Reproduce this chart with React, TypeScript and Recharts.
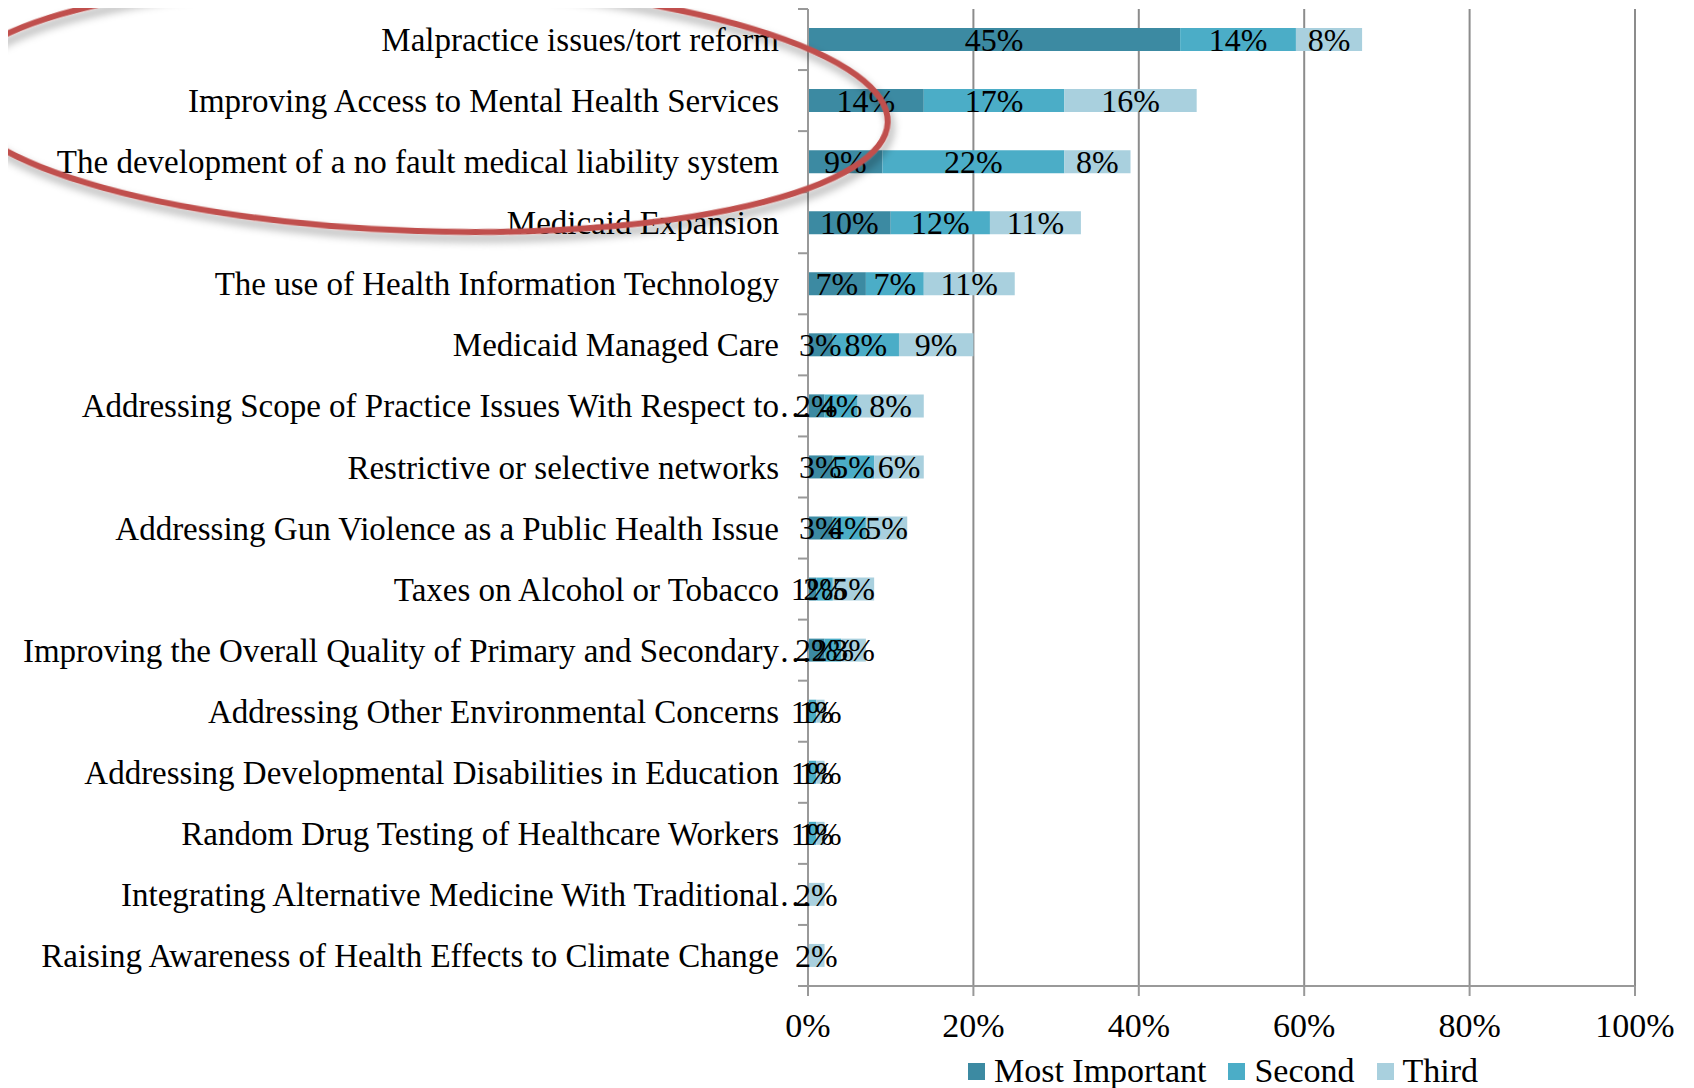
import React from 'react';
import {
  BarChart,
  Bar,
  XAxis,
  YAxis,
  CartesianGrid,
  Legend,
  LabelList,
} from 'recharts';

const issues = [
  'Malpractice issues/tort reform',
  'Improving Access to Mental Health Services',
  'The development of a no fault medical liability system',
  'Medicaid Expansion',
  'The use of Health Information Technology',
  'Medicaid Managed Care',
  'Addressing Scope of Practice Issues With Respect to…',
  'Restrictive or selective networks',
  'Addressing Gun Violence as a Public Health Issue',
  'Taxes on Alcohol or Tobacco',
  'Improving the Overall Quality of Primary and Secondary…',
  'Addressing Other Environmental Concerns',
  'Addressing Developmental Disabilities in Education',
  'Random Drug Testing of Healthcare Workers',
  'Integrating Alternative Medicine With Traditional…',
  'Raising Awareness of Health Effects to Climate Change',
];

const mostImportant = [45, 14, 9, 10, 7, 3, 2, 3, 3, 1, 2, 0, 0, 0, 0, 0];
const second = [14, 17, 22, 12, 7, 8, 4, 5, 4, 2, 2, 1, 1, 1, 0, 0];
const third = [8, 16, 8, 11, 11, 9, 8, 6, 5, 5, 3, 1, 1, 1, 2, 2];

const xTicks = [0, 20, 40, 60, 80, 100];

const seriesNames = ['Most Important', 'Second', 'Third'];
const colors = ['#3C8AA2', '#4BADC7', '#A9D0DE'];

const data = issues.map((name, i) => ({
  name,
  most: mostImportant[i],
  second: second[i],
  third: third[i],
}));

const FONT = '"Liberation Serif", "Times New Roman", serif';
const BAND = 977 / issues.length;

const YTick = (props: any) => {
  const { x, y, payload, index } = props;
  const axisX = x + 8;
  const label: string = payload.value;
  const cut = label.endsWith('…');
  const textProps = { y, dy: '0.35em', fontFamily: FONT, fontSize: 33, fill: '#000' };
  return (
    <g>
      <line x1={axisX - 10} x2={axisX} y1={y - BAND / 2} y2={y - BAND / 2} stroke="#999" strokeWidth={2} />
      {index === issues.length - 1 && (
        <line x1={axisX - 10} x2={axisX} y1={y + BAND / 2} y2={y + BAND / 2} stroke="#999" strokeWidth={2} />
      )}
      <text x={axisX - 29} textAnchor="end" {...textProps}>
        {cut ? label.slice(0, -1) : label}
      </text>
      {cut && (
        <text x={axisX - 29} textAnchor="start" {...textProps}>
          …
        </text>
      )}
    </g>
  );
};

const pct = (v: any) => (v ? `${v}%` : '');

const LegendContent = () => (
  <div style={{ display: 'flex', justifyContent: 'center', alignItems: 'center', fontFamily: FONT, fontSize: 34, lineHeight: '34px' }}>
    {seriesNames.map((n, i) => (
      <div key={n} style={{ display: 'flex', alignItems: 'center', marginRight: i < 2 ? 22 : 0 }}>
        <span style={{ width: 17, height: 17, background: colors[i], display: 'inline-block', marginRight: 9 }} />
        <span>{n}</span>
      </div>
    ))}
  </div>
);

const App = () => {
  return (
    <div style={{ position: 'relative', width: 1686, height: 1080 }}>
      <BarChart
        width={1686}
        height={1080}
        data={data}
        layout="vertical"
        margin={{ top: 1, right: 59, bottom: 0, left: 0 }}
        barSize={23}
      >
        <CartesianGrid horizontal={false} vertical stroke="#8c8c8c" strokeWidth={2} />
        <XAxis
          type="number"
          domain={[0, 100]}
          ticks={xTicks}
          tickFormatter={(v) => `${v}%`}
          height={68}
          stroke="#999"
          strokeWidth={2}
          tickSize={10}
          tickMargin={17}
          tick={{ fontFamily: FONT, fontSize: 34, fill: '#000' }}
        />
        <YAxis
          type="category"
          dataKey="name"
          width={800}
          stroke="#999"
          strokeWidth={2}
          tickLine={false}
          interval={0}
          tick={<YTick />}
        />
        <Legend verticalAlign="bottom" height={34} content={<LegendContent />} wrapperStyle={{ left: 800, width: 830 }} />
        <Bar dataKey="most" name={seriesNames[0]} stackId="a" fill={colors[0]} isAnimationActive={false}>
          <LabelList dataKey="most" position="center" formatter={pct} fill="#000" fontFamily={FONT} fontSize={32} />
        </Bar>
        <Bar dataKey="second" name={seriesNames[1]} stackId="a" fill={colors[1]} isAnimationActive={false}>
          <LabelList dataKey="second" position="center" formatter={pct} fill="#000" fontFamily={FONT} fontSize={32} />
        </Bar>
        <Bar dataKey="third" name={seriesNames[2]} stackId="a" fill={colors[2]} isAnimationActive={false}>
          <LabelList dataKey="third" position="center" formatter={pct} fill="#000" fontFamily={FONT} fontSize={32} />
        </Bar>
      </BarChart>
      {/* red annotation ellipse drawn over the top three items (page coordinates) */}
      <svg
        width={1694}
        height={1088}
        style={{ position: 'absolute', left: -8, top: -8, pointerEvents: 'none', overflow: 'visible' }}
      >
        <defs>
          <filter id="shadow" x="-20%" y="-50%" width="140%" height="200%">
            <feDropShadow dx="3" dy="6" stdDeviation="4" floodColor="#000" floodOpacity="0.35" />
          </filter>
        </defs>
        <ellipse
          cx={420}
          cy={106}
          rx={468}
          ry={125}
          transform="rotate(2 420 106)"
          fill="none"
          stroke="#C0504D"
          strokeWidth={6}
          filter="url(#shadow)"
        />
      </svg>
    </div>
  );
};

export default App;
